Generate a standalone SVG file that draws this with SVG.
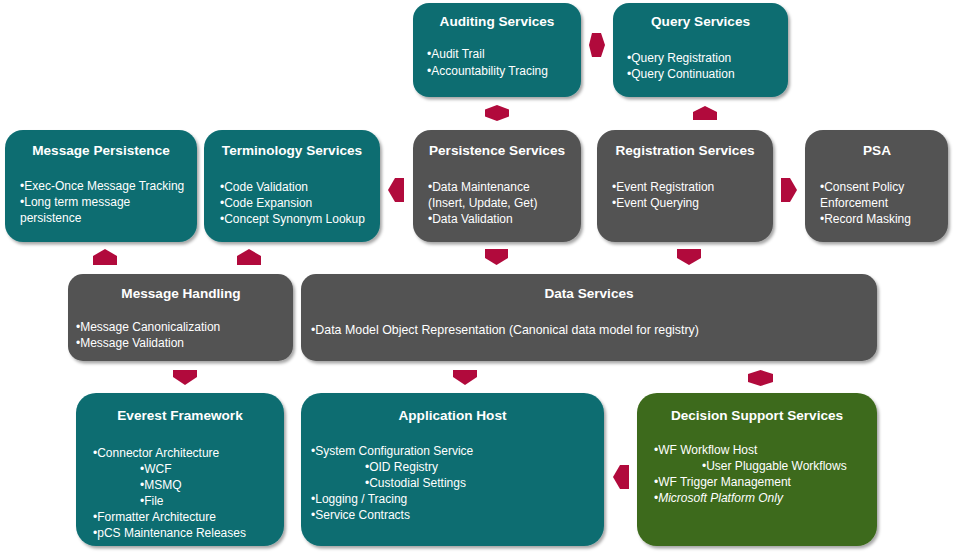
<svg xmlns="http://www.w3.org/2000/svg" width="954" height="556" viewBox="0 0 954 556">
<defs>
<filter id="sh" x="-10%" y="-10%" width="125%" height="130%">
<feDropShadow dx="2" dy="2.5" stdDeviation="1.6" flood-color="#000" flood-opacity="0.35"/>
</filter>
<style>
.teal{fill:#0b6d71;filter:url(#sh)}
.gray{fill:#535353;filter:url(#sh)}
.green{fill:#3c6a1a;filter:url(#sh)}
.t{font-family:"Liberation Sans",Arial,sans-serif;font-weight:bold;font-size:13.6px;fill:#fff;text-anchor:middle}
.b{font-family:"Liberation Sans",Arial,sans-serif;font-size:12px;fill:#fff}
.arr{fill:#b10a3c}
</style>
</defs>
<rect width="954" height="556" fill="#fff"/>

<g id="connectors">
<polygon class="arr" points="592,33 601,33 605,45 601,57 592,57 589,45"/>
<polygon class="arr" points="485,109.5 497,105 509,109.5 509,116.5 497,121 485,116.5"/>
<polygon class="arr" points="693,120 693,112 705,106 717,112 717,120"/>
<polygon class="arr" points="404,178 404,202 395,202 388,190 395,178"/>
<polygon class="arr" points="781,178 790,178 797,190 790,202 781,202"/>
<polygon class="arr" points="485,249 508,249 508,258 496.5,265 485,258"/>
<polygon class="arr" points="677,249 701,249 701,258 689,265 677,258"/>
<polygon class="arr" points="93,265 93,256 105,249 117,256 117,265"/>
<polygon class="arr" points="237,265 237,256 249,249 261,256 261,265"/>
<polygon class="arr" points="173,370 197,370 197,377 185,385 173,377"/>
<polygon class="arr" points="453,370 477,370 477,377 465,385 453,377"/>
<polygon class="arr" points="748,374 760.5,370 773,374 773,382 760.5,386 748,382"/>
<polygon class="arr" points="629,465 629,489 620,489 613,477 620,465"/>
</g>

<g id="auditing">
<rect class="teal" x="413" y="3" width="168" height="94" rx="16"/>
<text class="t" x="497" y="26">Auditing Services</text>
<text class="b" x="427" y="58">•Audit Trail</text>
<text class="b" x="427" y="75">•Accountability Tracing</text>
</g>

<g id="query">
<rect class="teal" x="613" y="3" width="175" height="94" rx="16"/>
<text class="t" x="700.5" y="26">Query Services</text>
<text class="b" x="627" y="62">•Query Registration</text>
<text class="b" x="627" y="78">•Query Continuation</text>
</g>

<g id="message-persistence">
<rect class="teal" x="5" y="130" width="192" height="112" rx="18"/>
<text class="t" x="101" y="155">Message Persistence</text>
<text class="b" x="20" y="190">•Exec-Once Message Tracking</text>
<text class="b" x="20" y="206">•Long term message</text>
<text class="b" x="20" y="222">persistence</text>
</g>

<g id="terminology">
<rect class="teal" x="204" y="130" width="176" height="112" rx="18"/>
<text class="t" x="292" y="155">Terminology  Services</text>
<text class="b" x="220" y="191">•Code Validation</text>
<text class="b" x="220" y="207">•Code Expansion</text>
<text class="b" x="220" y="223">•Concept Synonym Lookup</text>
</g>

<g id="persistence">
<rect class="gray" x="413" y="130" width="168" height="112" rx="18"/>
<text class="t" x="497" y="155">Persistence Services</text>
<text class="b" x="428" y="191">•Data Maintenance</text>
<text class="b" x="428" y="207">(Insert, Update, Get)</text>
<text class="b" x="428" y="223">•Data Validation</text>
</g>

<g id="registration">
<rect class="gray" x="597" y="130" width="176" height="112" rx="18"/>
<text class="t" x="685" y="155">Registration Services</text>
<text class="b" x="612" y="191">•Event Registration</text>
<text class="b" x="612" y="207">•Event Querying</text>
</g>

<g id="psa">
<rect class="gray" x="805" y="130" width="143" height="112" rx="18"/>
<text class="t" x="877" y="155">PSA</text>
<text class="b" x="820" y="191">•Consent Policy</text>
<text class="b" x="820" y="207">Enforcement</text>
<text class="b" x="820" y="223">•Record Masking</text>
</g>

<g id="message-handling">
<rect class="gray" x="68" y="274" width="225" height="87" rx="15"/>
<text class="t" x="181" y="298">Message Handling</text>
<text class="b" x="76" y="331">•Message Canonicalization</text>
<text class="b" x="76" y="347">•Message Validation</text>
</g>

<g id="data-services">
<rect class="gray" x="301" y="274" width="576" height="87" rx="15"/>
<text class="t" x="589" y="298">Data Services</text>
<text class="b" x="311" y="334" style="font-size:12.4px">•Data Model Object Representation (Canonical data model for registry)</text>
</g>

<g id="everest">
<rect class="teal" x="76" y="393" width="208" height="153" rx="20"/>
<text class="t" x="180" y="420">Everest Framework</text>
<text class="b" x="93" y="457">•Connector Architecture</text>
<text class="b" x="140" y="473">•WCF</text>
<text class="b" x="140" y="489">•MSMQ</text>
<text class="b" x="140" y="505">•File</text>
<text class="b" x="93" y="521">•Formatter Architecture</text>
<text class="b" x="93" y="537">•pCS Maintenance Releases</text>
</g>

<g id="application-host">
<rect class="teal" x="301" y="393" width="303" height="153" rx="20"/>
<text class="t" x="452.5" y="420">Application  Host</text>
<text class="b" x="311" y="455">•System Configuration Service</text>
<text class="b" x="365" y="471">•OID Registry</text>
<text class="b" x="365" y="487">•Custodial Settings</text>
<text class="b" x="311" y="503">•Logging / Tracing</text>
<text class="b" x="311" y="519">•Service Contracts</text>
</g>

<g id="decision-support">
<rect class="green" x="637" y="393" width="240" height="153" rx="20"/>
<text class="t" x="757" y="420">Decision Support Services</text>
<text class="b" x="654" y="454">•WF Workflow Host</text>
<text class="b" x="702" y="470">•User Pluggable Workflows</text>
<text class="b" x="654" y="486">•WF Trigger Management</text>
<text class="b" x="654" y="502">•<tspan font-style="italic">Microsoft Platform Only</tspan></text>
</g>
</svg>
